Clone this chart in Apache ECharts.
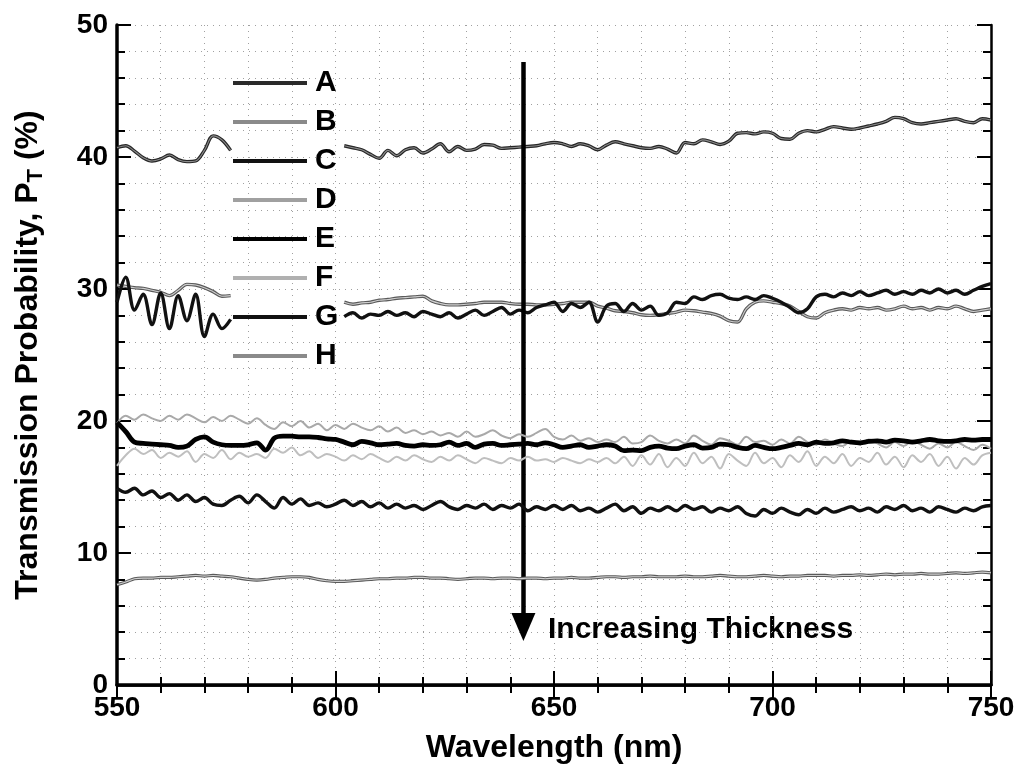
<!DOCTYPE html>
<html>
<head>
<meta charset="utf-8">
<script src="https://cdn.jsdelivr.net/npm/echarts@6/dist/echarts.min.js"></script>
<style>
html, body { margin: 0; background: #fff; }
#chart { width: 1018px; height: 781px; }
</style>
</head>
<body>
<div id="chart"></div>
<script>
// wavelength grid (nm)
var wavelength = [
	550,552,554,556,558,560,562,564,566,568,
	570,572,574,576,578,580,582,584,586,588,
	590,592,594,596,598,600,602,604,606,608,
	610,612,614,616,618,620,622,624,626,628,
	630,632,634,636,638,640,642,644,646,648,
	650,652,654,656,658,660,662,664,666,668,
	670,672,674,676,678,680,682,684,686,688,
	690,692,694,696,698,700,702,704,706,708,
	710,712,714,716,718,720,722,724,726,728,
	730,732,734,736,738,740,742,744,746,748,
	750
];

// transmission probability (%), null = hidden behind legend
var pA = [
	40.7,40.85,40.45,39.95,39.7,39.85,40.15,39.8,39.65,39.7,
	40.5,41.6,41.3,40.5,null,null,null,null,null,null,
	null,null,null,null,null,null,40.85,40.7,40.55,40.2,
	39.9,40.5,40.1,40.55,40.7,40.3,40.6,41.0,40.4,40.8,
	40.5,40.6,40.95,40.9,40.65,40.7,40.75,40.8,40.85,41.0,
	41.1,41.0,40.8,41.0,40.85,40.55,40.9,41.15,41.0,40.85,
	40.7,40.65,40.8,40.6,40.3,41.1,41.0,41.3,41.15,40.95,
	41.2,41.8,41.85,41.75,41.9,41.8,41.4,41.35,41.8,42.0,
	41.9,42.1,42.3,42.2,42.1,42.2,42.35,42.5,42.7,43.0,
	42.9,42.6,42.5,42.6,42.7,42.8,42.9,42.7,42.6,42.9,
	42.8
];
var pB = [
	30.3,30.2,30.1,30.05,29.9,29.75,29.5,29.9,30.35,30.3,
	30.1,29.8,29.45,29.5,null,null,null,null,null,null,
	null,null,null,null,null,null,29.0,28.85,28.95,29.0,
	29.15,29.2,29.3,29.35,29.4,29.45,29.1,28.9,28.8,28.8,
	28.85,28.9,29.0,29.0,29.0,28.9,28.85,28.85,28.8,28.8,
	28.85,28.9,29.0,29.0,29.0,28.7,28.55,28.35,28.3,28.2,
	28.05,28.0,28.05,28.15,28.25,28.4,28.35,28.25,28.15,27.95,
	27.6,27.5,28.5,29.0,29.1,29.0,28.9,28.7,28.3,27.9,
	27.8,28.2,28.4,28.5,28.4,28.6,28.5,28.6,28.4,28.5,
	28.7,28.5,28.6,28.4,28.6,28.5,28.7,28.5,28.3,28.4,
	28.5
];
var pC = [
	29.0,30.9,28.4,29.6,27.3,29.7,27.0,29.5,27.6,29.6,
	26.4,28.1,27.0,27.7,null,null,null,null,null,null,
	null,null,null,null,null,null,27.9,28.2,27.8,28.1,
	28.0,28.3,28.0,28.2,27.9,28.3,28.1,27.9,28.2,27.8,
	28.1,28.4,28.0,28.3,28.6,28.1,28.4,28.2,28.6,28.8,
	29.0,28.3,28.9,28.6,29.0,27.5,28.7,28.9,28.3,28.9,
	28.4,28.7,28.0,28.2,29.0,28.9,29.4,29.2,29.5,29.6,
	29.3,29.2,29.4,29.2,29.5,29.3,29.0,28.6,28.2,28.5,
	29.4,29.6,29.4,29.7,29.5,29.8,29.5,29.7,29.9,29.6,
	29.8,29.6,29.9,29.7,30.0,29.7,29.9,29.6,29.9,30.2,
	30.4
];
var pD = [
	19.8,20.4,20.1,20.5,20.2,20.0,20.4,20.1,20.5,20.2,
	19.9,20.3,20.0,20.4,20.1,19.8,20.2,19.7,19.4,19.9,
	19.6,20.0,19.5,19.8,19.3,19.7,19.4,19.8,19.5,19.3,
	19.6,19.2,19.5,19.1,19.3,19.0,19.2,18.9,19.1,18.8,
	19.2,18.8,19.0,19.3,18.9,18.7,19.0,18.8,19.1,19.4,
	18.8,18.6,18.9,18.5,18.7,18.4,18.6,18.4,18.8,18.3,
	18.4,18.9,18.5,18.3,18.6,18.3,18.9,18.5,18.2,18.7,
	18.5,18.2,18.8,18.4,18.5,18.2,18.6,18.3,18.8,18.4,
	18.2,18.6,18.3,18.1,18.5,18.2,18.6,18.3,18.0,18.4,
	18.1,18.5,18.2,17.9,18.3,18.0,18.4,18.1,17.8,18.2,
	17.9
];
var pE = [
	19.9,19.2,18.4,18.3,18.25,18.2,18.15,18.0,18.1,18.6,
	18.8,18.4,18.2,18.15,18.15,18.2,18.35,17.8,18.7,18.85,
	18.85,18.8,18.8,18.75,18.65,18.6,18.4,18.2,18.45,18.35,
	18.2,18.25,18.3,18.15,18.1,18.2,18.15,18.2,18.4,18.15,
	18.3,18.0,18.25,18.3,18.15,18.2,18.25,18.3,18.2,18.35,
	18.2,18.0,18.1,18.2,18.0,18.1,18.2,18.1,17.75,17.8,
	17.75,18.0,18.1,17.95,17.9,18.1,18.2,17.95,18.0,18.25,
	18.2,18.0,17.9,18.15,18.0,17.9,18.0,18.15,18.3,18.2,
	18.4,18.3,18.35,18.5,18.4,18.35,18.45,18.5,18.4,18.55,
	18.5,18.4,18.5,18.6,18.5,18.45,18.5,18.6,18.55,18.6,
	18.6
];
var pF = [
	16.6,17.4,17.9,17.5,17.8,17.2,17.6,17.3,17.7,16.9,
	17.5,17.2,17.8,17.1,17.6,17.3,17.5,17.2,17.9,17.6,
	18.0,17.4,17.7,17.2,17.5,17.3,17.0,17.4,17.1,17.5,
	17.2,16.9,17.3,17.0,17.4,17.1,16.9,17.3,17.0,17.4,
	17.1,16.8,17.2,17.0,16.8,17.2,17.0,17.3,17.0,17.1,
	16.9,17.2,17.0,16.8,17.1,16.9,17.2,16.8,17.3,16.6,
	17.4,16.7,17.5,16.5,17.2,16.6,17.6,16.8,17.3,16.4,
	17.5,17.0,16.6,17.6,16.8,17.2,16.5,17.4,16.9,17.7,
	16.6,17.3,16.8,17.5,16.6,17.2,16.9,17.6,16.7,17.3,
	16.5,17.4,16.9,17.5,16.6,17.3,16.4,17.2,16.7,17.4,
	17.6
];
var pG = [
	14.9,14.6,14.9,14.4,14.7,14.2,14.5,14.0,14.4,13.9,
	14.2,13.7,13.6,14.0,14.3,13.8,14.4,13.9,13.4,14.2,
	13.7,14.1,13.6,13.8,13.5,13.7,14.0,13.6,13.9,13.5,
	13.8,13.4,13.7,13.4,13.6,13.3,13.6,13.9,13.5,13.3,
	13.6,13.4,13.7,13.3,13.6,13.4,13.7,13.2,13.5,13.3,
	13.6,13.3,13.6,13.2,13.4,13.1,13.4,13.7,13.2,13.5,
	13.0,13.4,13.2,13.5,13.2,13.6,13.3,13.5,13.1,13.4,
	13.2,13.5,13.0,12.8,13.3,13.0,13.4,13.1,12.9,13.3,
	13.0,13.4,13.1,13.3,13.5,13.2,13.4,13.1,13.5,13.3,
	13.6,13.2,13.4,13.1,13.5,13.3,13.1,13.4,13.2,13.5,
	13.6
];
var pH = [
	7.6,7.8,8.05,8.1,8.1,8.15,8.15,8.2,8.25,8.3,
	8.25,8.3,8.25,8.2,8.1,8.0,7.95,8.0,8.1,8.15,
	8.2,8.2,8.15,8.0,7.9,7.85,7.85,7.9,7.95,8.0,
	8.05,8.05,8.1,8.1,8.15,8.15,8.1,8.1,8.05,8.0,
	8.05,8.1,8.1,8.05,8.1,8.1,8.05,8.1,8.1,8.05,
	8.1,8.1,8.15,8.1,8.1,8.15,8.2,8.2,8.15,8.2,
	8.2,8.25,8.2,8.2,8.2,8.25,8.2,8.2,8.25,8.3,
	8.25,8.2,8.2,8.25,8.3,8.25,8.2,8.25,8.25,8.3,
	8.3,8.3,8.25,8.3,8.3,8.35,8.3,8.35,8.4,8.35,
	8.4,8.4,8.45,8.4,8.4,8.45,8.5,8.45,8.5,8.55,
	8.5
];

var names = ['A', 'B', 'C', 'D', 'E', 'F', 'G', 'H'];
var values = [pA, pB, pC, pD, pE, pF, pG, pH];

// arrow annotation: wavelength and start / end of the arrow
var arrowX = 643;
var arrowFrom = 47.2;
var arrowTo = 4.4;

// look of each trace (outlined traces get a lighter core)
var looks = {
	A: { color: '#262626', width: 3.4, core: '#8c8c8c', key: '#2a2a2a' },
	B: { color: '#5a5a5a', width: 3.4, core: '#cfcfcf', key: '#8a8a8a' },
	C: { color: '#111', width: 3.4, key: '#111' },
	D: { color: '#a9a9a9', width: 2, key: '#a0a0a0' },
	E: { color: '#000', width: 4.8, key: '#000' },
	F: { color: '#bfbfbf', width: 2, key: '#b0b0b0' },
	G: { color: '#111', width: 3.4, key: '#111' },
	H: { color: '#5a5a5a', width: 3.2, core: '#d0d0d0', key: '#8a8a8a' }
};

var font = '"Liberation Sans", Arial, Helvetica, sans-serif';

function pairs(vals) {
	return wavelength.map(function (w, i) { return [w, vals[i]]; });
}

var series = [];
names.forEach(function (n, i) {
	var lk = looks[n];
	series.push({
		name: n,
		type: 'line',
		data: pairs(values[i]),
		symbol: 'none',
		smooth: 0.35,
		connectNulls: false,
		color: lk.color,
		lineStyle: { color: lk.color, width: lk.width },
		z: 2 + i
	});
	if (lk.core) {
		series.push({
			name: n + '-core',
			type: 'line',
			data: pairs(values[i]),
			symbol: 'none',
			smooth: 0.35,
			connectNulls: false,
			silent: true,
			lineStyle: { color: lk.core, width: 1.1 },
			z: 2 + i
		});
	}
});

// the "Increasing Thickness" arrow
series.push({
	name: 'arrow',
	type: 'line',
	data: [],
	silent: true,
	markLine: {
		silent: true,
		symbol: ['none', 'triangle'],
		symbolSize: [24, 28],
		label: { show: false },
		lineStyle: { color: '#000', width: 4.5, type: 'solid' },
		data: [[{ coord: [arrowX, arrowFrom] }, { coord: [arrowX, arrowTo] }]]
	},
	z: 20
});

var dotted = { color: '#a0a0a0', width: 1, type: [1, 5] };
var tickLine = { color: '#000', width: 2 };

var chart = echarts.init(document.getElementById('chart'));
chart.setOption({
	animation: false,
	backgroundColor: '#fff',
	grid: { left: 117, right: 27, top: 25, bottom: 96 },
	legend: {
		data: names.map(function (n) { return { name: n, itemStyle: { color: looks[n].key } }; }),
		orient: 'vertical',
		left: 233,
		top: 68,
		padding: 0,
		icon: 'rect',
		itemWidth: 74,
		itemHeight: 4,
		itemGap: 9,
		selectedMode: false,
		textStyle: { fontSize: 30, fontWeight: 'bold', color: '#000', fontFamily: font, lineHeight: 30, padding: [0, 0, 0, 3] }
	},
	xAxis: [{
		type: 'value',
		min: 550, max: 750, interval: 50,
		position: 'bottom',
		name: 'Wavelength (nm)',
		nameLocation: 'middle',
		nameGap: 47,
		nameTextStyle: { fontSize: 32, fontWeight: 'bold', color: '#000', fontFamily: font },
		axisLine: { lineStyle: { color: '#000', width: 3.5 } },
		axisTick: { inside: true, length: 14, lineStyle: tickLine },
		minorTick: { show: true, splitNumber: 5, length: 8, lineStyle: tickLine },
		axisLabel: { fontSize: 28, fontWeight: 'bold', color: '#000', fontFamily: font, margin: 9 },
		splitLine: { show: true, lineStyle: dotted },
		minorSplitLine: { show: true, lineStyle: dotted }
	}, {
		type: 'value',
		min: 550, max: 750, interval: 50,
		position: 'top',
		axisLine: { lineStyle: { color: '#000', width: 2.5 } },
		axisTick: { inside: true, length: 14, lineStyle: tickLine },
		minorTick: { show: true, splitNumber: 5, length: 8, lineStyle: tickLine },
		axisLabel: { show: false },
		splitLine: { show: false }
	}],
	yAxis: [{
		type: 'value',
		min: 0, max: 50, interval: 10,
		position: 'left',
		name: 'Transmission Probability, P{sub|T} (%)',
		nameLocation: 'middle',
		nameGap: 70,
		nameTextStyle: {
			fontSize: 32, fontWeight: 'bold', color: '#000', fontFamily: font, lineHeight: 38,
			rich: { sub: { fontSize: 22, fontWeight: 'bold', color: '#000', fontFamily: font, verticalAlign: 'bottom', lineHeight: 38 } }
		},
		axisLine: { lineStyle: { color: '#000', width: 3.5 } },
		axisTick: { inside: true, length: 14, lineStyle: tickLine },
		minorTick: { show: true, splitNumber: 5, length: 8, lineStyle: tickLine },
		axisLabel: { fontSize: 28, fontWeight: 'bold', color: '#000', fontFamily: font, margin: 9 },
		splitLine: { show: true, lineStyle: dotted },
		minorSplitLine: { show: true, lineStyle: dotted }
	}, {
		type: 'value',
		min: 0, max: 50, interval: 10,
		position: 'right',
		axisLine: { lineStyle: { color: '#000', width: 2.5 } },
		axisTick: { inside: true, length: 14, lineStyle: tickLine },
		minorTick: { show: true, splitNumber: 5, length: 8, lineStyle: tickLine },
		axisLabel: { show: false },
		splitLine: { show: false }
	}],
	graphic: [{
		type: 'text',
		left: 548,
		top: 615,
		silent: true,
		style: { text: 'Increasing Thickness', fontSize: 30, fontWeight: 'bold', fill: '#000', fontFamily: font }
	}],
	series: series
});
</script>
</body>
</html>
